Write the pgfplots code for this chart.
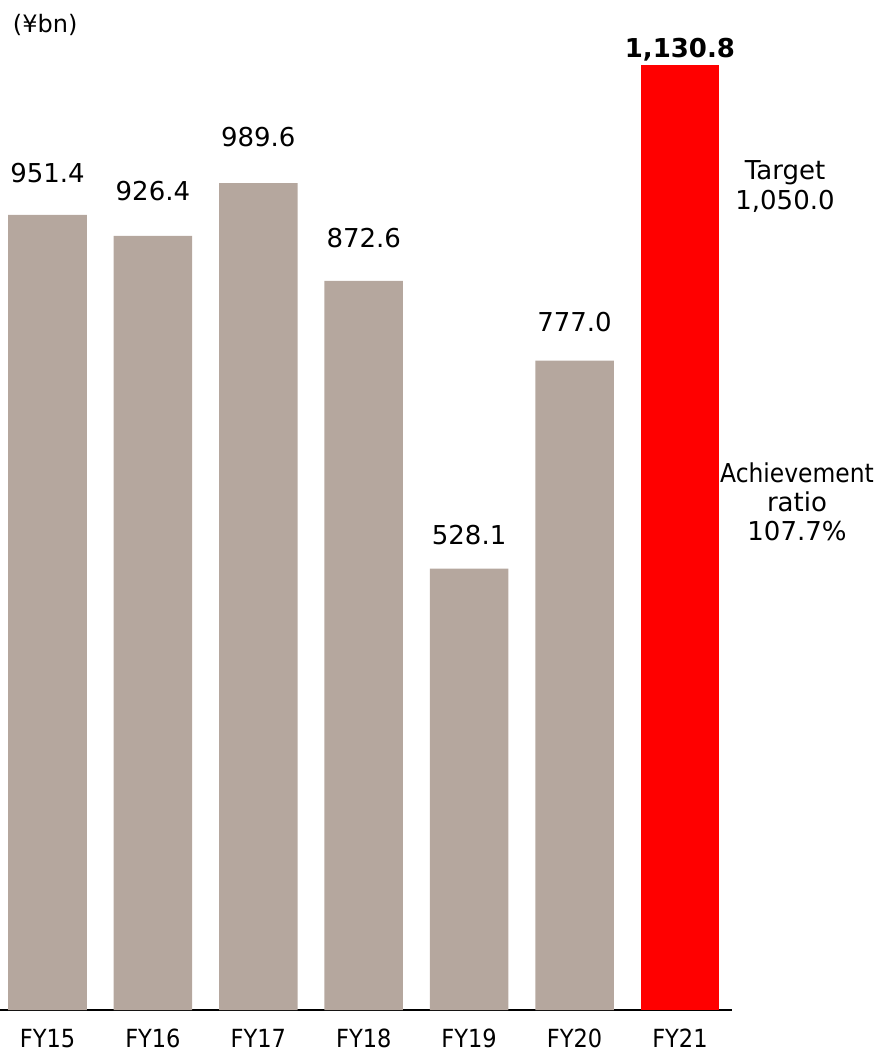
\documentclass[border=0pt]{standalone}
\usepackage{pgfplots}
\pgfplotsset{compat=1.18}
\usepackage{fontspec}
\setmainfont{DejaVu Sans}
\newfontfamily\condfont{DejaVu Sans Condensed}
\definecolor{barg}{RGB}{181,167,158}
\definecolor{barr}{RGB}{255,0,0}
\newcommand\vl{\fontsize{13bp}{15bp}\selectfont}
\begin{document}
\begin{tikzpicture}
\useasboundingbox (0,-21bp) rectangle (439bp,505bp);
\begin{axis}[
  at={(0,0)}, anchor=south west,
  scale only axis,
  width=366bp, height=501.4bp,
  xmin=-0.4507, xmax=6.494,
  ymin=0, ymax=1200,
  clip=false,
  axis x line=bottom, axis y line=none,
  axis line style={-, black, line width=1bp},
  xtick={0,1,2,3,4,5,6},
  xticklabels={FY15,FY16,FY17,FY18,FY19,FY20,FY21},
  xtick style={draw=none},
  xticklabel style={anchor=base, yshift=-16.5bp, font=\condfont\fontsize{12.5bp}{15bp}\selectfont, inner sep=0pt},
  ytick=\empty,
]
\addplot[ybar, bar width=0.745, draw=none, fill=barg] coordinates {
  (0,951.4) (1,926.4) (2,989.6) (3,872.6) (4,528.1) (5,777.0)
};
\addplot[ybar, bar width=0.745, draw=none, fill=barr] coordinates {
  (6,1130.8)
};
\node[anchor=base, font=\vl, inner sep=0pt] at (axis cs:0,951.4) [yshift=16bp] {951.4};
\node[anchor=base, font=\vl, inner sep=0pt] at (axis cs:1,926.4) [yshift=17.5bp] {926.4};
\node[anchor=base, font=\vl, inner sep=0pt] at (axis cs:2,989.6) [yshift=18.3bp] {989.6};
\node[anchor=base, font=\vl, inner sep=0pt] at (axis cs:3,872.6) [yshift=16.5bp] {872.6};
\node[anchor=base, font=\vl, inner sep=0pt] at (axis cs:4,528.1) [yshift=12bp] {528.1};
\node[anchor=base, font=\vl, inner sep=0pt] at (axis cs:5,777.0) [yshift=14.5bp] {777.0};
\node[anchor=base, font=\vl\bfseries, inner sep=0pt] at (axis cs:6,1130.8) [yshift=4bp] {1,130.8};
\end{axis}
\node[anchor=base west, inner sep=0pt, font=\fontsize{12bp}{14bp}\selectfont] at (6.3bp,488.5bp) {(¥bn)};
\node[anchor=base, inner sep=0pt, font=\vl] at (392.5bp,415bp) {Target};
\node[anchor=base, inner sep=0pt, font=\vl] at (392.5bp,400bp) {1,050.0};
\node[anchor=base, inner sep=0pt, font=\condfont\vl] at (398.5bp,263.5bp) {Achievement};
\node[anchor=base, inner sep=0pt, font=\vl] at (398.5bp,249bp) {ratio};
\node[anchor=base, inner sep=0pt, font=\vl] at (398.5bp,234.5bp) {107.7\%};
\end{tikzpicture}
\end{document}
